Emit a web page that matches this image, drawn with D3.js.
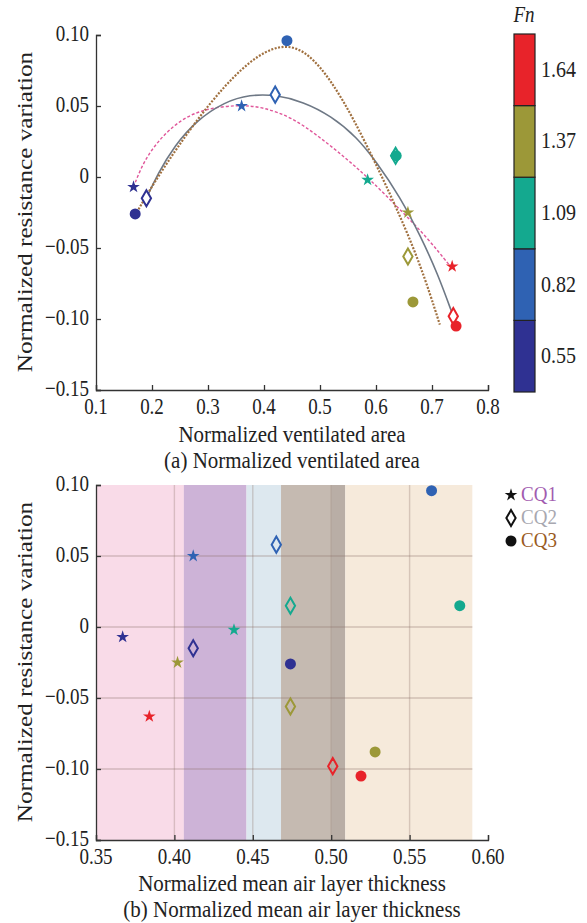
<!DOCTYPE html>
<html>
<head>
<meta charset="utf-8">
<script src="https://cdn.jsdelivr.net/npm/d3@7"></script>
<style>
	body{margin:0;background:#fff;}
	svg text{font-family:"Liberation Serif","Times New Roman",serif;fill:#222;}
</style>
</head>
<body>
<div id="chart"></div>
<script>
// Froude number levels and colours of the colour bar
const fnLevels = [0.55, 0.82, 1.09, 1.37, 1.64]
const fnColors = ["#2f3192", "#2f62b3", "#14a98f", "#9c9838", "#e8232a"]

// normalized ventilated area, per scheme, in Fn order
const cq1Area = [0.167, 0.360, 0.585, 0.657, 0.736]
const cq2Area = [0.190, 0.420, 0.635, 0.657, 0.738]
const cq3Area = [0.170, 0.441, 0.636, 0.666, 0.743]

// normalized mean air layer thickness
const cq1Thick = [0.367, 0.412, 0.438, 0.402, 0.384]
const cq2Thick = [0.412, 0.465, 0.474, 0.474, 0.501]
const cq3Thick = [0.474, 0.564, 0.582, 0.528, 0.519]

// normalized resistance variation
const cq1Res = [-0.007, 0.050, -0.002, -0.025, -0.063]
const cq2Res = [-0.015, 0.058, 0.015, -0.056, -0.098]
const cq3Res = [-0.026, 0.096, 0.015, -0.088, -0.105]

// fitted curves
const cq1Fit = [[0.167,-0.007],[0.19,0.016],[0.24,0.038],[0.29,0.048],[0.357,0.051],[0.40,0.049],[0.45,0.042],[0.50,0.028],[0.55,0.012],[0.59,-0.002],[0.643,-0.023],[0.69,-0.042],[0.735,-0.064]]
const cq2Fit = [[0.19,-0.015],[0.21,0.002],[0.24,0.022],[0.28,0.040],[0.33,0.053],[0.375,0.058],[0.42,0.058],[0.47,0.053],[0.52,0.043],[0.566,0.028],[0.60,0.011],[0.643,-0.014],[0.68,-0.042],[0.71,-0.068],[0.737,-0.097]]
const cq3Fit = [[0.17,-0.027],[0.19,-0.013],[0.22,0.006],[0.27,0.035],[0.33,0.065],[0.39,0.087],[0.44,0.094],[0.48,0.087],[0.52,0.068],[0.56,0.041],[0.60,0.009],[0.637,-0.022],[0.68,-0.062],[0.714,-0.104]]

// background bands of panel (b): [from, to, colour]
const bandFrom = [0.35, 0.406, 0.446, 0.468, 0.500, 0.509]
const bandTo = [0.406, 0.446, 0.468, 0.500, 0.509, 0.590]
const bandColors = ["#f9dbe8", "#cdb3d7", "#dde8ef", "#c5bab1", "#b9aea6", "#f6eadb"]

const yTicks = [-0.15, -0.10, -0.05, 0, 0.05, 0.10]
const xTicksA = [0.1, 0.2, 0.3, 0.4, 0.5, 0.6, 0.7, 0.8]
const xTicksB = [0.35, 0.40, 0.45, 0.50, 0.55, 0.60]
const gridX = [0.40, 0.45, 0.50, 0.55]
const gridY = [-0.10, -0.05, 0, 0.05]

const schemes = ["CQ1", "CQ2", "CQ3"]
const schemeColors = ["#a25cb0", "#a8a8b0", "#9a5b1e"]

const W = 587, H = 923, SY = 1.2

const color = d3.scaleOrdinal().domain(fnLevels).range(fnColors)

const svg = d3.select("#chart").append("svg")
	.attr("width", W).attr("height", H)

// text drawn a little taller than wide, as in the scanned figure
function label(g, x, y, txt, size, anchor, rot, sy){
	return g.append("text")
		.attr("transform", "translate("+x+","+y+") scale(1,"+(sy || SY)+")"+(rot ? " rotate(-90)" : ""))
		.attr("text-anchor", anchor || "middle")
		.style("font-size", size+"px")
		.text(txt)
}

const fmtY = d => d === 0 ? "0" : d3.format(".2f")(d)

function axes(g, x, y, xTicks, fmtX){
	g.append("g").attr("transform", "translate(0,"+y.range()[0]+")")
		.call(d3.axisBottom(x).tickValues(xTicks).tickSizeInner(-5).tickSizeOuter(-5).tickFormat(""))
	g.append("g").attr("transform", "translate("+x.range()[0]+",0)")
		.call(d3.axisLeft(y).tickValues(yTicks).tickSizeInner(-5).tickSizeOuter(-5).tickFormat(""))
	g.selectAll(".domain, .tick line").attr("stroke", "#333").attr("stroke-width", 1.3)
	xTicks.forEach(d => label(g, x(d), y.range()[0]+24, fmtX(d), 19))
	yTicks.forEach(d => label(g, x.range()[0]-7, y(d)+6, fmtY(d), 19, "end"))
}

function marker(g, kind, cx, cy, c, fill){
	if (kind === 0){
		g.append("path").attr("d", d3.symbol(d3.symbolStar, 50)())
			.attr("transform", "translate("+cx+","+cy+")").attr("fill", c)
	} else if (kind === 1){
		g.append("path").attr("d", d3.symbol(d3.symbolDiamond, 75)())
			.attr("transform", "translate("+cx+","+cy+")")
			.attr("fill", fill).attr("stroke", c).attr("stroke-width", 2)
	} else {
		g.append("circle").attr("cx", cx).attr("cy", cy).attr("r", 5.5).attr("fill", c)
	}
}

// ---------- panel (a)
const ga = svg.append("g")
const xa = d3.scaleLinear().domain([0.1, 0.8]).range([96, 488])
const ya = d3.scaleLinear().domain([-0.15, 0.10]).range([390, 35])

axes(ga, xa, ya, xTicksA, d3.format(".1f"))

const line = d3.line().x(d => xa(d[0])).y(d => ya(d[1])).curve(d3.curveBasis)
ga.append("path").attr("d", line(cq1Fit)).attr("fill", "none")
	.attr("stroke", "#e0579a").attr("stroke-width", 1.4).attr("stroke-dasharray", "3,2")
ga.append("path").attr("d", line(cq2Fit)).attr("fill", "none")
	.attr("stroke", "#6e7885").attr("stroke-width", 1.6)
ga.append("path").attr("d", line(cq3Fit)).attr("fill", "none")
	.attr("stroke", "#a0703f").attr("stroke-width", 2.2).attr("stroke-dasharray", "2,1.5")

const areas = [cq1Area, cq2Area, cq3Area]
const thicks = [cq1Thick, cq2Thick, cq3Thick]
const ress = [cq1Res, cq2Res, cq3Res]

areas.forEach((xs, k) => xs.forEach((v, i) =>
	marker(ga, k, xa(v), ya(ress[k][i]), color(fnLevels[i]), "#fff")))

// colour bar
const cb = d3.scaleBand().domain(fnLevels.slice().reverse()).range([34, 392])
ga.selectAll(".cb").data(fnLevels).enter().append("rect")
	.attr("x", 514).attr("width", 21)
	.attr("y", d => cb(d)).attr("height", cb.bandwidth())
	.attr("fill", d => color(d)).attr("stroke", "#222").attr("stroke-width", 1.2)
fnLevels.forEach(d => label(ga, 541, cb(d)+cb.bandwidth()/2+7, d3.format(".2f")(d), 20, "start"))
label(ga, 524, 22, "Fn", 19).style("font-style", "italic")

label(ga, 32, 212, "Normalized resistance variation", 21, "middle", true)
label(ga, 292, 442, "Normalized ventilated area", 21, "middle", false, 1.1)
label(ga, 292, 468, "(a) Normalized ventilated area", 21, "middle", false, 1.1)

// ---------- panel (b)
const gb = svg.append("g")
const xb = d3.scaleLinear().domain([0.35, 0.60]).range([96, 488])
const yb = d3.scaleLinear().domain([-0.15, 0.10]).range([840, 485])

bandFrom.forEach((f, i) => gb.append("rect")
	.attr("x", xb(f)).attr("width", xb(bandTo[i])-xb(f))
	.attr("y", yb(0.10)).attr("height", yb(-0.15)-yb(0.10))
	.attr("fill", bandColors[i]))

gridX.forEach(d => gb.append("line")
	.attr("x1", xb(d)).attr("x2", xb(d)).attr("y1", yb(0.10)).attr("y2", yb(-0.15))
	.attr("stroke", "#8a6f68").attr("stroke-opacity", 0.3).attr("stroke-width", 1.4))
gridY.forEach(d => gb.append("line")
	.attr("x1", xb(0.35)).attr("x2", xb(0.59)).attr("y1", yb(d)).attr("y2", yb(d))
	.attr("stroke", "#8a6f68").attr("stroke-opacity", 0.35).attr("stroke-width", 1.4))

axes(gb, xb, yb, xTicksB, d3.format(".2f"))

thicks.forEach((xs, k) => xs.forEach((v, i) =>
	marker(gb, k, xb(v), yb(ress[k][i]), color(fnLevels[i]), "none")))

// legend
schemes.forEach((s, k) => {
	const ly = 495 + k*23
	marker(gb, k, 511, ly, "#111", "#fff")
	label(gb, 521, ly+6, s, 19, "start", false, 1.05).style("fill", schemeColors[k])
})

label(gb, 32, 662, "Normalized resistance variation", 21, "middle", true)
label(gb, 292, 891, "Normalized mean air layer thickness", 21, "middle", false, 1.1)
label(gb, 292, 917, "(b) Normalized mean air layer thickness", 21, "middle", false, 1.1)
</script>
</body>
</html>
